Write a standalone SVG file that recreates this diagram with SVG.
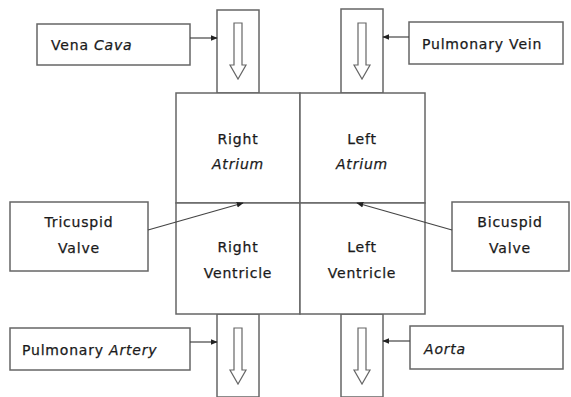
<svg xmlns="http://www.w3.org/2000/svg" width="571" height="397" viewBox="0 0 571 397">
<defs>
<style>
.box{fill:#fff;stroke:#666;stroke-width:1.5}
.ln{fill:none;stroke:#444;stroke-width:1.2}
.ha{fill:#fff;stroke:#666;stroke-width:1.2}
text{font-family:"DejaVu Sans","Liberation Sans",sans-serif;font-size:14px;letter-spacing:0.8px;fill:#1a1a1a;stroke:#1a1a1a;stroke-width:0.25}
.c{text-anchor:middle}
.i{font-style:italic}
</style>
<marker id="ah" viewBox="0 0 10 10" refX="9" refY="5" markerWidth="7" markerHeight="7" orient="auto" markerUnits="userSpaceOnUse">
<path d="M0,1 L10,5 L0,9 Z" fill="#222"/>
</marker>
<path id="hollow" d="M-4,0 L4,0 L4,42 L8,42 L0,56 L-8,42 L-4,42 Z"/>
</defs>
<rect width="571" height="397" fill="#fff"/>
<g id="vessel-in-right">
<rect class="box" x="217" y="10" width="42" height="83"/>
<use href="#hollow" class="ha" x="238" y="23"/>
</g>
<g id="vessel-in-left">
<rect class="box" x="341" y="9" width="42" height="84"/>
<use href="#hollow" class="ha" x="362" y="23"/>
</g>
<g id="vessel-out-right">
<rect class="box" x="217" y="314" width="42" height="83"/>
<use href="#hollow" class="ha" x="238" y="328"/>
</g>
<g id="vessel-out-left">
<rect class="box" x="341" y="314" width="42" height="83"/>
<use href="#hollow" class="ha" x="362" y="328"/>
</g>
<g id="right-atrium">
<rect class="box" x="176" y="93" width="124" height="110"/>
<text class="c" x="238" y="144">Right</text>
<text class="c i" x="238" y="169">Atrium</text>
</g>
<g id="left-atrium">
<rect class="box" x="300" y="93" width="125" height="110"/>
<text class="c" x="362" y="144">Left</text>
<text class="c i" x="362" y="169">Atrium</text>
</g>
<g id="right-ventricle">
<rect class="box" x="176" y="203" width="124" height="111"/>
<text class="c" x="238" y="252">Right</text>
<text class="c" x="238" y="278">Ventricle</text>
</g>
<g id="left-ventricle">
<rect class="box" x="300" y="203" width="125" height="111"/>
<text class="c" x="362" y="252">Left</text>
<text class="c" x="362" y="278">Ventricle</text>
</g>
<g id="vena-cava">
<rect class="box" x="37" y="24" width="153" height="41"/>
<text x="51" y="50">Vena <tspan class="i">Cava</tspan></text>
</g>
<g id="pulmonary-vein">
<rect class="box" x="409" y="22" width="154" height="42"/>
<text x="422" y="49">Pulmonary Vein</text>
</g>
<g id="tricuspid-valve">
<rect class="box" x="10" y="202" width="138" height="69"/>
<text class="c" x="79" y="227">Tricuspid</text>
<text class="c" x="79" y="253">Valve</text>
</g>
<g id="bicuspid-valve">
<rect class="box" x="452" y="202" width="117" height="69"/>
<text class="c" x="510" y="227">Bicuspid</text>
<text class="c" x="510" y="253">Valve</text>
</g>
<g id="pulmonary-artery">
<rect class="box" x="10" y="328" width="180" height="42"/>
<text x="22" y="355">Pulmonary <tspan class="i">Artery</tspan></text>
</g>
<g id="aorta">
<rect class="box" x="410" y="326" width="153" height="43"/>
<text class="i" x="424" y="354">Aorta</text>
</g>
<g id="connectors">
<line class="ln" x1="190" y1="38" x2="217" y2="38" marker-end="url(#ah)"/>
<line class="ln" x1="409" y1="37" x2="383" y2="37" marker-end="url(#ah)"/>
<line class="ln" x1="148" y1="230" x2="243" y2="203" marker-end="url(#ah)"/>
<line class="ln" x1="452" y1="230" x2="357" y2="203" marker-end="url(#ah)"/>
<line class="ln" x1="190" y1="342" x2="217" y2="342" marker-end="url(#ah)"/>
<line class="ln" x1="410" y1="341" x2="383" y2="341" marker-end="url(#ah)"/>
</g>
</svg>
